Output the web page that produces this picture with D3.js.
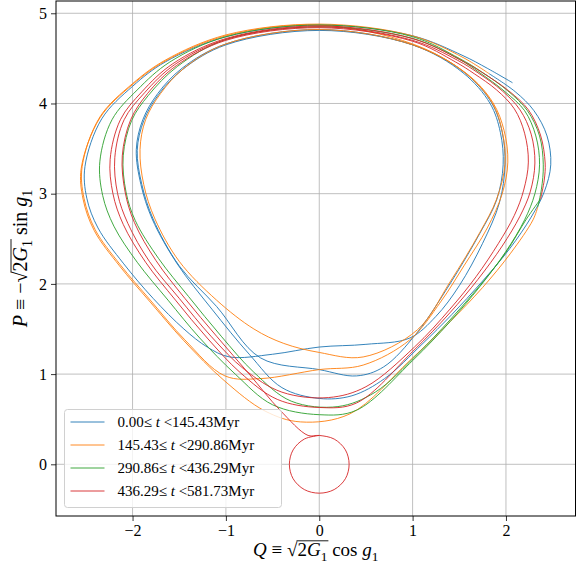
<!DOCTYPE html>
<html>
<head>
<meta charset="utf-8">
<script src="https://cdn.jsdelivr.net/npm/d3@7"></script>
<style>
body { margin: 0; background: #fff; }
svg { display: block; font-family: "Liberation Serif", "DejaVu Serif", serif; }
svg .tick text { font-family: "Liberation Serif", "DejaVu Serif", serif; }
</style>
</head>
<body>
<div id="chart"></div>
<script>
// axis ticks and limits
var xTicks = [-2, -1, 0, 1, 2];
var yTicks = [0, 1, 2, 3, 4, 5];
var xDomain = [-2.82, 2.745];
var yDomain = [-0.573, 5.136];

var seriesLabels = [
    ["0.00≤\u00a0", "t", "\u00a0<145.43Myr"],
    ["145.43≤\u00a0", "t", "\u00a0<290.86Myr"],
    ["290.86≤\u00a0", "t", "\u00a0<436.29Myr"],
    ["436.29≤\u00a0", "t", "\u00a0<581.73Myr"]
];
var seriesColors = ["#1f77b4", "#ff7f0e", "#2ca02c", "#d62728"];

// (Q, P) points of each time window, in time order
var blueQP = [
    [2.07, 4.23], [1.8, 4.39], [1.54, 4.53], [1.0, 4.75],
    [0, 4.87], [-1.0, 4.74], [-1.65, 4.46], [-2.0, 4.19], [-2.33, 3.83], [-2.51, 3.30],
    [-2.49, 2.95], [-2.37, 2.62], [-2.10, 2.23], [-1.78, 1.84], [-1.45, 1.50], [-1.2, 1.30], [-0.96, 1.19],
    [-0.5, 1.22], [0, 1.30], [0.5, 1.33], [0.97, 1.40],
    [1.25, 1.64], [1.5, 1.98], [1.75, 2.45], [1.93, 2.9], [1.99, 3.32], [1.96, 3.68], [1.85, 4.0], [1.56, 4.34], [1.0, 4.65],
    [0, 4.81], [-1.0, 4.65], [-1.46, 4.38], [-1.72, 4.10], [-1.88, 3.81], [-1.95, 3.48], [-1.90, 3.10],
    [-1.78, 2.72], [-1.50, 2.20], [-1.10, 1.75], [-0.63, 1.18], [0, 1.05], [0.40, 0.98], [0.69, 1.08],
    [1.04, 1.45], [1.40, 2.0], [1.72, 2.56], [1.90, 2.93], [1.97, 3.32], [1.94, 3.68], [1.83, 4.0], [1.54, 4.34], [1.0, 4.65],
    [0, 4.82], [-1.0, 4.66], [-1.47, 4.39], [-1.73, 4.11], [-1.89, 3.82], [-1.96, 3.49], [-1.91, 3.10],
    [-1.79, 2.72], [-1.52, 2.22], [-1.15, 1.72], [-0.75, 1.22], [-0.4, 0.85], [0, 0.73], [0.35, 0.76],
    [0.7, 0.95], [1.1, 1.33], [1.42, 1.66], [1.74, 2.02], [2.04, 2.39], [2.27, 2.74], [2.41, 3.02],
    [2.48, 3.32], [2.44, 3.64], [2.3, 3.92], [2.1, 4.13], [1.82, 4.33]
];
var orangeQP = [
    [1.82, 4.33], [1.54, 4.51], [1.0, 4.75],
    [0, 4.88], [-1.0, 4.76], [-1.65, 4.48], [-2.0, 4.22], [-2.35, 3.85], [-2.54, 3.30], [-2.52, 2.95],
    [-2.40, 2.60], [-2.13, 2.21], [-1.81, 1.82], [-1.44, 1.38], [-1.01, 0.98],
    [-0.63, 0.95], [0, 1.05], [0.47, 1.10], [0.97, 1.38],
    [1.3, 1.8], [1.55, 2.2], [1.8, 2.62], [1.96, 3.0], [2.02, 3.35], [1.98, 3.7], [1.86, 4.01], [1.58, 4.33], [1.0, 4.65],
    [0, 4.82], [-1.0, 4.66], [-1.45, 4.39], [-1.7, 4.11], [-1.86, 3.82], [-1.92, 3.49], [-1.88, 3.10],
    [-1.76, 2.72], [-1.5, 2.25], [-1.1, 1.82], [-0.7, 1.5], [-0.38, 1.34],
    [0, 1.24], [0.47, 1.19], [1.05, 1.49],
    [1.40, 2.02], [1.72, 2.57], [1.90, 2.94], [1.99, 3.33], [1.96, 3.69], [1.85, 4.01], [1.55, 4.35], [1.0, 4.66],
    [0, 4.87], [-1.0, 4.75], [-1.65, 4.47], [-2.0, 4.21], [-2.35, 3.84], [-2.55, 3.28], [-2.53, 2.94],
    [-2.41, 2.59], [-2.14, 2.20], [-1.82, 1.81], [-1.45, 1.37], [-1.02, 0.93], [-0.58, 0.59],
    [-0.2, 0.47], [0.33, 0.56], [0.97, 1.15], [1.4, 1.58], [1.75, 1.96], [2.05, 2.34], [2.29, 2.71], [2.34, 2.85]
];
var greenQP = [
    [2.34, 2.85], [2.38, 3.05], [2.40, 3.32], [2.36, 3.64], [2.23, 3.92], [2.02, 4.14], [1.74, 4.35], [1.5, 4.5], [1.0, 4.74],
    [0, 4.87], [-1.0, 4.74], [-1.6, 4.46], [-1.95, 4.15], [-2.22, 3.82], [-2.35, 3.36], [-2.32, 2.98],
    [-2.2, 2.64], [-1.95, 2.24], [-1.62, 1.82], [-1.28, 1.40], [-0.9, 1.0], [-0.5, 0.66],
    [0, 0.55], [0.4, 0.6],
    [1.0, 1.15], [1.4, 1.58], [1.72, 1.97], [2.0, 2.36], [2.2, 2.71], [2.31, 3.0], [2.36, 3.32],
    [2.32, 3.64], [2.2, 3.92], [1.99, 4.13], [1.72, 4.34], [1.5, 4.49], [1.0, 4.72],
    [0, 4.85], [-1.0, 4.71], [-1.52, 4.41], [-1.83, 4.09], [-2.01, 3.81], [-2.10, 3.42], [-2.07, 3.02],
    [-1.97, 2.70], [-1.72, 2.28], [-1.4, 1.86], [-1.05, 1.42], [-0.7, 1.02], [-0.3, 0.7],
    [0.2, 0.64], [0.6, 0.8],
    [1.05, 1.22], [1.4, 1.6], [1.72, 1.98], [2.0, 2.35], [2.22, 2.72], [2.37, 2.94]
];
var redQP = [
    [2.37, 2.94], [2.41, 3.15], [2.42, 3.34], [2.37, 3.65], [2.24, 3.93], [2.03, 4.14], [1.75, 4.34], [1.5, 4.49], [1.0, 4.72],
    [0, 4.86], [-1.0, 4.72], [-1.57, 4.44], [-1.9, 4.13], [-2.13, 3.82], [-2.24, 3.38], [-2.21, 3.0],
    [-2.1, 2.66], [-1.86, 2.24], [-1.54, 1.82], [-1.2, 1.40], [-0.85, 1.02], [-0.45, 0.72],
    [0, 0.63], [0.4, 0.68],
    [1.0, 1.25], [1.4, 1.68], [1.7, 2.05], [1.96, 2.42], [2.15, 2.75], [2.26, 3.02], [2.31, 3.34],
    [2.27, 3.66], [2.15, 3.93], [1.96, 4.14], [1.7, 4.34], [1.48, 4.48], [1.0, 4.70],
    [0, 4.85], [-1.0, 4.71], [-1.55, 4.43], [-1.87, 4.12], [-2.09, 3.82], [-2.19, 3.40], [-2.16, 3.0],
    [-2.05, 2.67], [-1.82, 2.25], [-1.5, 1.84], [-1.16, 1.42], [-0.8, 1.05], [-0.4, 0.8],
    [0.1, 0.74], [0.5, 0.86],
    [1.02, 1.3], [1.4, 1.72], [1.68, 2.08], [1.92, 2.45], [2.09, 2.76], [2.19, 3.04], [2.24, 3.35],
    [2.2, 3.67], [2.09, 3.94], [1.9, 4.15], [1.66, 4.33], [1.46, 4.46], [1.0, 4.69],
    [0, 4.84], [-1.0, 4.70], [-1.53, 4.42], [-1.84, 4.11], [-2.02, 3.82], [-2.11, 3.42], [-2.08, 3.02],
    [-1.98, 2.68], [-1.75, 2.26], [-1.44, 1.84], [-1.1, 1.42], [-0.75, 1.0], [-0.42, 0.6], [-0.12, 0.32],
    [0, 0.32], [0.16, 0.28], [0.28, 0.16], [0.32, 0], [0.28, -0.16], [0.16, -0.28], [0, -0.32],
    [-0.16, -0.28], [-0.28, -0.16], [-0.32, 0], [-0.28, 0.16], [-0.16, 0.28], [0, 0.32]
];
var allSeries = [blueQP, orangeQP, greenQP, redQP];

var width = 583;
var height = 570;
var margin = {left: 56, right: 7.5, top: 1, bottom: 54};

var svg = d3.select("#chart")
    .append("svg")
    .attr("width", width)
    .attr("height", height);

var x = d3.scaleLinear()
    .domain(xDomain)
    .range([margin.left, width - margin.right]);

var y = d3.scaleLinear()
    .domain(yDomain)
    .range([height - margin.bottom, margin.top]);

// grid
svg.append("g")
    .selectAll("line")
    .data(xTicks)
    .join("line")
    .attr("x1", d => x(d)).attr("x2", d => x(d))
    .attr("y1", y.range()[0]).attr("y2", y.range()[1])
    .attr("stroke", "#b0b0b0")
    .attr("stroke-width", 0.8);

svg.append("g")
    .selectAll("line")
    .data(yTicks)
    .join("line")
    .attr("y1", d => y(d)).attr("y2", d => y(d))
    .attr("x1", x.range()[0]).attr("x2", x.range()[1])
    .attr("stroke", "#b0b0b0")
    .attr("stroke-width", 0.8);

svg.append("clipPath")
    .attr("id", "plot-clip")
    .append("rect")
    .attr("x", x.range()[0]).attr("y", y.range()[1])
    .attr("width", x.range()[1] - x.range()[0])
    .attr("height", y.range()[0] - y.range()[1]);

var line = d3.line()
    .x(d => x(d[0]))
    .y(d => y(d[1]))
    .curve(d3.curveCatmullRom.alpha(0.5));

svg.append("g")
    .attr("clip-path", "url(#plot-clip)")
    .selectAll("path")
    .data(allSeries)
    .join("path")
    .attr("fill", "none")
    .attr("stroke", (d, i) => seriesColors[i])
    .attr("stroke-width", 1)
    .attr("opacity", 0.9)
    .attr("d", line);

// axes
var xAxis = svg.append("g")
    .attr("transform", `translate(0, ${y.range()[0]})`)
    .call(d3.axisBottom(x).tickValues(xTicks).tickSize(5).tickPadding(4)
        .tickFormat(d => d < 0 ? "\u2212" + Math.abs(d) : d));

var yAxis = svg.append("g")
    .attr("transform", `translate(${x.range()[0]}, 0)`)
    .call(d3.axisLeft(y).tickValues(yTicks).tickSize(5).tickPadding(4).tickFormat(d3.format("d")));

[xAxis, yAxis].forEach(function (a) {
    a.select(".domain").remove();
    a.attr("font-family", null).attr("font-size", 16);
    a.selectAll("text").attr("fill", "#000");
    a.selectAll("line").attr("stroke", "#000").attr("stroke-width", 0.8);
});

// frame
svg.append("rect")
    .attr("x", x.range()[0]).attr("y", y.range()[1])
    .attr("width", x.range()[1] - x.range()[0])
    .attr("height", y.range()[0] - y.range()[1])
    .attr("fill", "none")
    .attr("stroke", "#000")
    .attr("stroke-width", 1);

// small helper for the math labels
function drawMath(g, parts, size) {
    var cx = 0;
    var marks = {};
    parts.forEach(function (p) {
        var fs = p.sub ? size * 0.7 : size;
        if (p.mark) marks[p.mark] = cx;
        var t = g.append("text")
            .attr("x", cx)
            .attr("y", p.sub ? size * 0.25 : 0)
            .attr("font-size", fs)
            .attr("font-style", p.it ? "italic" : "normal")
            .text(p.s);
        cx += t.node().getComputedTextLength();
        if (p.markEnd) marks[p.markEnd] = cx;
    });
    if (marks.a !== undefined) {
        g.append("line")
            .attr("x1", marks.a - 1).attr("x2", marks.b + 1)
            .attr("y1", -size * 0.8).attr("y2", -size * 0.8)
            .attr("stroke", "#000").attr("stroke-width", 0.9);
    }
    return cx;
}

var xLabelParts = [
    {s: "Q", it: true}, {s: "\u00a0\u2261\u00a0"}, {s: "\u221a"},
    {s: "2", mark: "a"}, {s: "G", it: true}, {s: "1", sub: true, markEnd: "b"},
    {s: "\u00a0cos\u00a0"}, {s: "g", it: true}, {s: "1", sub: true}
];
var yLabelParts = [
    {s: "P", it: true}, {s: "\u00a0\u2261\u00a0\u2212"}, {s: "\u221a"},
    {s: "2", mark: "a"}, {s: "G", it: true}, {s: "1", sub: true, markEnd: "b"},
    {s: "\u00a0sin\u00a0"}, {s: "g", it: true}, {s: "1", sub: true}
];

var xl = svg.append("g");
var xw = drawMath(xl, xLabelParts, 19);
xl.attr("transform", `translate(${(x.range()[0] + x.range()[1]) / 2 - xw / 2}, 556)`);

var yl = svg.append("g");
var yw = drawMath(yl, yLabelParts, 20);
yl.attr("transform", `translate(27, ${(y.range()[0] + y.range()[1]) / 2 + yw / 2}) rotate(-90)`);

// legend
var legend = svg.append("g").attr("transform", "translate(64.5, 409.5)");
legend.append("rect")
    .attr("width", 217).attr("height", 98)
    .attr("rx", 3)
    .attr("fill", "#fff").attr("fill-opacity", 0.8)
    .attr("stroke", "#d0d0d0").attr("stroke-width", 1);

var rows = legend.selectAll(".row")
    .data(seriesLabels)
    .join("g")
    .attr("class", "row")
    .attr("transform", (d, i) => `translate(0, ${12.5 + i * 23})`);

rows.append("line")
    .attr("x1", 6).attr("x2", 40)
    .attr("stroke", (d, i) => seriesColors[i])
    .attr("stroke-width", 1)
    .attr("opacity", 0.9);

rows.append("text")
    .attr("x", 53)
    .attr("y", 5)
    .attr("font-size", 15)
    .selectAll("tspan")
    .data(d => d)
    .join("tspan")
    .attr("font-style", (d, i) => i == 1 ? "italic" : "normal")
    .text(d => d);
</script>
</body>
</html>
